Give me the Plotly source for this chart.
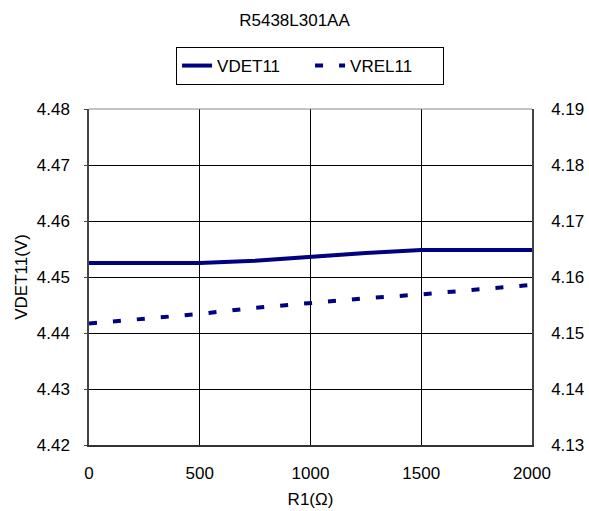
import plotly.graph_objects as go

r1 = [0, 250, 500, 750, 1000, 1250, 1500, 1750, 2000]
vdet11 = [4.4525, 4.4525, 4.4525, 4.4529, 4.4536, 4.4543, 4.4548, 4.4548, 4.4548]
vrel11 = [4.1517, 4.1525, 4.1534, 4.1545, 4.1554, 4.1562, 4.1569, 4.1577, 4.1586]

left_ticks = [4.42, 4.43, 4.44, 4.45, 4.46, 4.47, 4.48]
right_ticks = [4.13, 4.14, 4.15, 4.16, 4.17, 4.18, 4.19]
x_ticks = [0, 500, 1000, 1500, 2000]

FONT = "Liberation Sans, Arial, sans-serif"
NAVY = "#000080"
FS = 17

fig = go.Figure()
fig.add_trace(go.Scatter(x=r1, y=vdet11, mode="lines", name="VDET11",
                         line=dict(color=NAVY, width=4)))
fig.add_trace(go.Scatter(x=r1, y=vrel11, mode="lines", name="VREL11", yaxis="y2",
                         line=dict(color=NAVY, width=4, dash="8px,16px")))

fig.update_layout(
    width=589, height=511,
    margin=dict(l=89, r=57, t=109, b=66),
    paper_bgcolor="white", plot_bgcolor="white",
    font=dict(family=FONT, size=FS, color="black"),
    title=dict(text="R5438L301AA", x=0.5, xanchor="center", y=1 - 20/511, yanchor="middle",
               font=dict(size=17)),
    showlegend=True,
    legend=dict(orientation="h", x=0.499, xanchor="center", y=1.1845, yanchor="top",
                bordercolor="black", borderwidth=1, bgcolor="white",
                font=dict(size=FS), tracegroupgap=0, entrywidth=88),
    xaxis=dict(range=[0, 2000], tickvals=x_ticks, showgrid=True, gridcolor="black", gridwidth=1,
               showline=True, linecolor="#333", linewidth=1.5, mirror=False, zeroline=False,
               ticks="", tickfont=dict(size=FS), automargin=False, ticklabelstandoff=12,
               title=dict(text="R1(Ω)", font=dict(size=FS), standoff=11)),
    yaxis=dict(range=[4.42, 4.48], tickvals=left_ticks, tickformat=".2f",
               showgrid=True, gridcolor="black", gridwidth=1,
               showline=True, linecolor="#444", linewidth=1.5, zeroline=False,
               ticks="outside", ticklen=3, tickcolor="#444", tickfont=dict(size=FS),
               automargin=False, ticklabelstandoff=11,
               title=dict(text="VDET11(V)", font=dict(size=FS), standoff=5)),
    yaxis2=dict(range=[4.13, 4.19], tickvals=right_ticks, tickformat=".2f",
                overlaying="y", side="right", showgrid=False,
                showline=True, linecolor="#444", linewidth=1.5, zeroline=False,
                ticks="", tickfont=dict(size=FS), automargin=False, ticklabelstandoff=14),
)
fig.add_shape(type="line", xref="paper", yref="paper", x0=0, x1=1, y0=1, y1=1,
              line=dict(color="#888", width=1))

fig.write_html("out.html", config={"displayModeBar": False},
               post_script="document.body.style.margin='0px';")
